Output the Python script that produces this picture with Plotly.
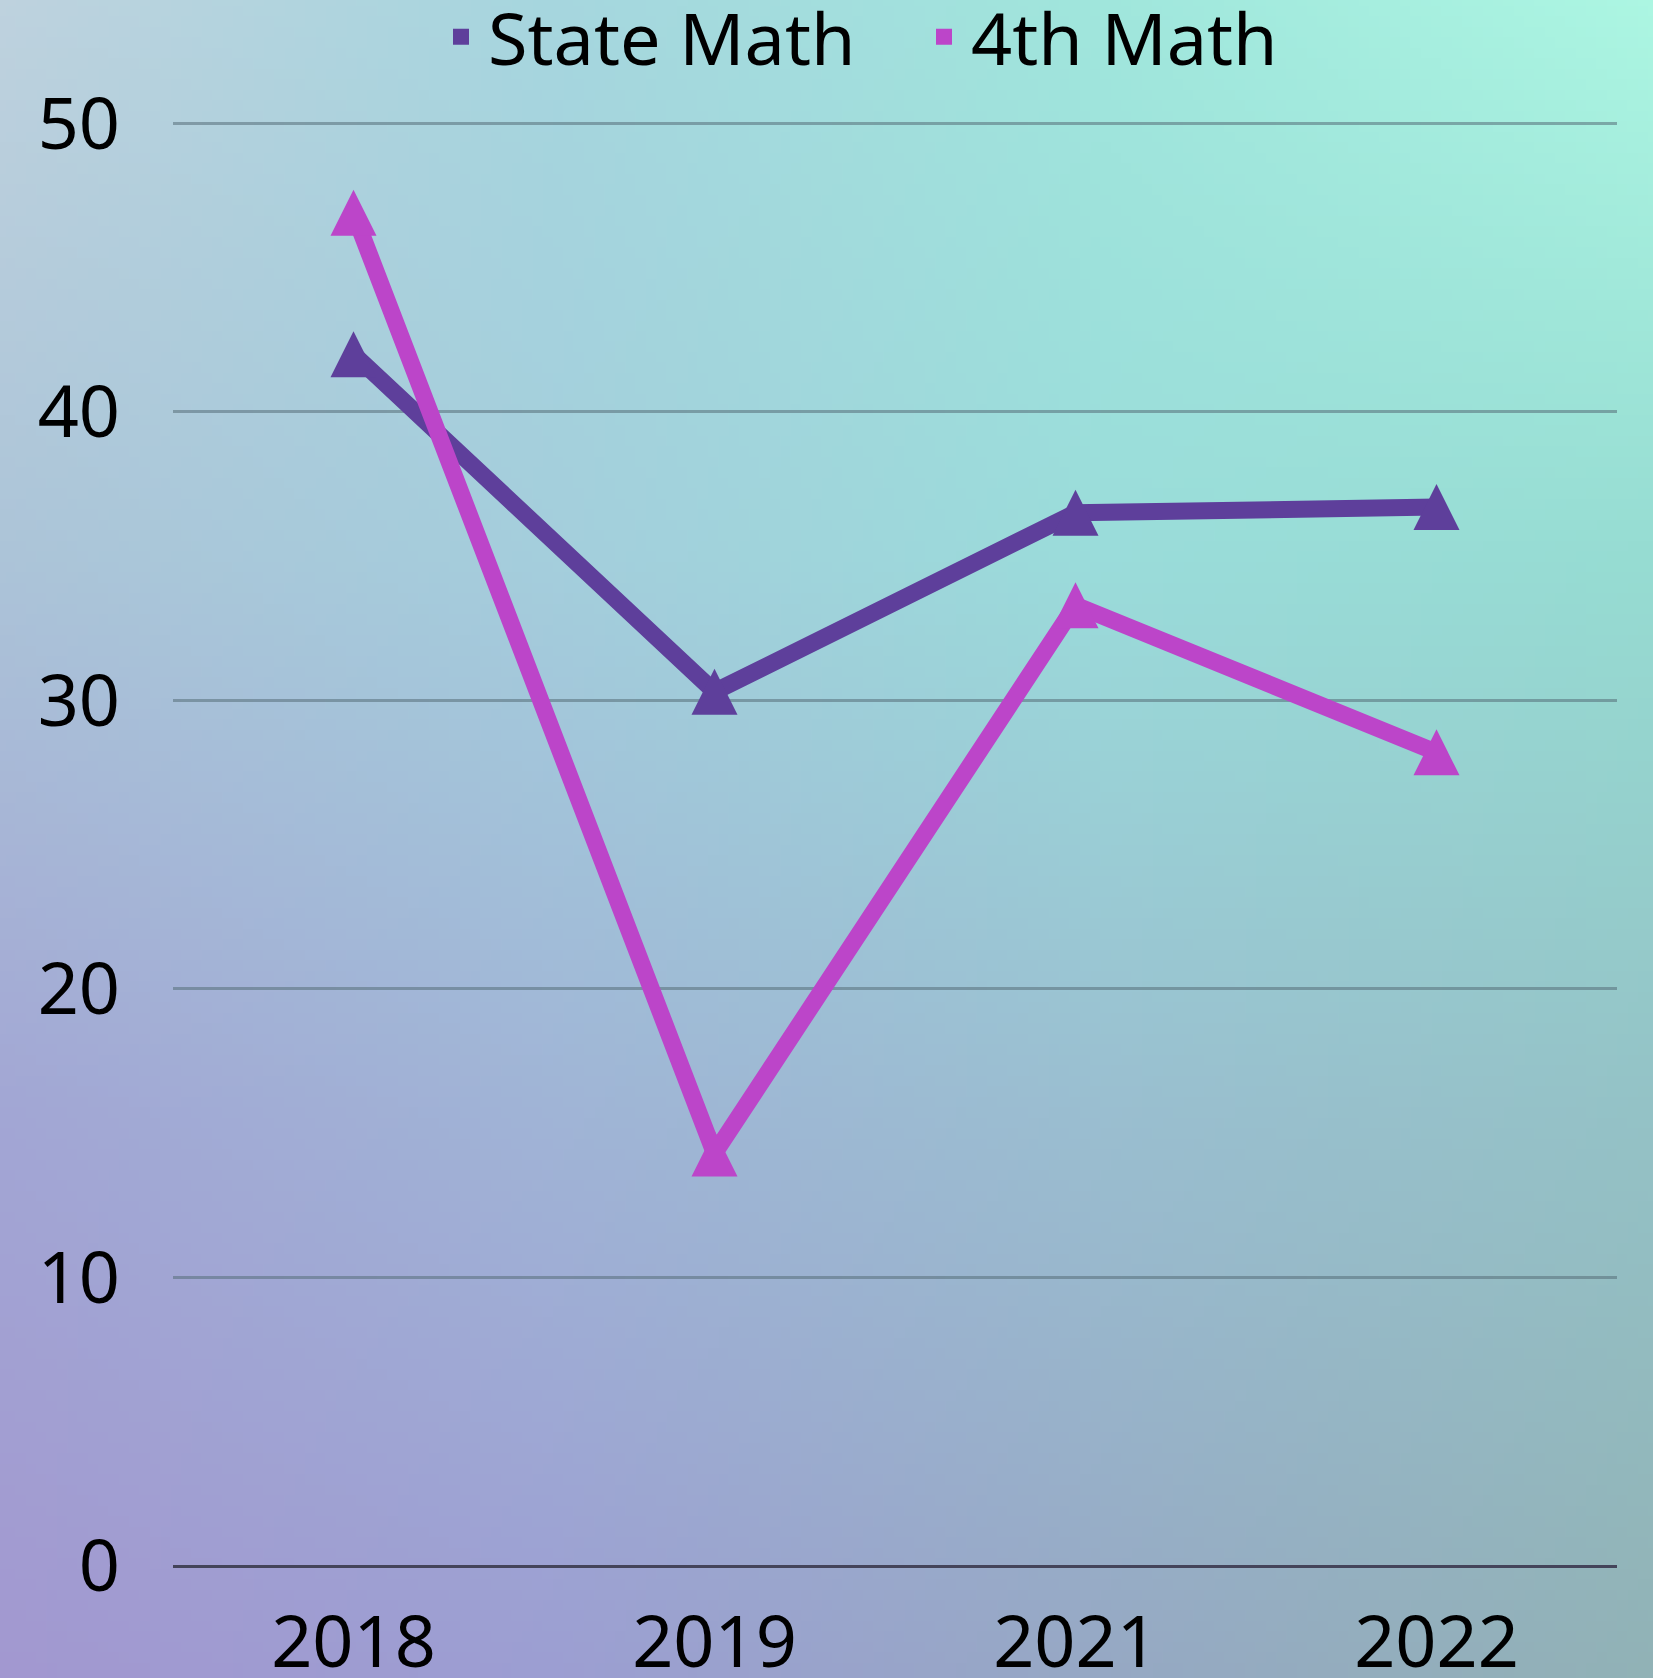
import base64, struct, zlib
import plotly.graph_objects as go

# ---- data ----
years = ["2018", "2019", "2021", "2022"]
state_math = [42.0, 30.3, 36.5, 36.7]
fourth_math = [46.9, 14.3, 33.3, 28.2]
y_ticks = [0, 10, 20, 30, 40, 50]

STATE_COLOR = "#5e3f9b"
FOURTH_COLOR = "#bc45c9"
FONT = "Noto Sans, Lato, sans-serif"

W, H = 1653, 1678
ML, MR, MT, MB = 173, 36, 121, 112
PW, PH = W - ML - MR, H - MT - MB

# ---- soft gradient background (decoration) ----
grid = [
    [(190, 210, 222), (166, 214, 222), (160, 230, 220), (172, 246, 226)],
    [(172, 196, 216), (164, 206, 220), (154, 220, 218), (150, 220, 210)],
    [(162, 166, 212), (160, 180, 214), (154, 190, 208), (148, 194, 198)],
    [(162, 152, 208), (156, 158, 210), (150, 168, 196), (145, 178, 182)],
]


def bg_png(w=160, h=160):
    rows = []
    n = len(grid) - 1
    m = len(grid[0]) - 1
    for j in range(h):
        fy = j / (h - 1) * n
        r0 = min(int(fy), n - 1)
        ty = fy - r0
        row = bytearray()
        for i in range(w):
            fx = i / (w - 1) * m
            c0 = min(int(fx), m - 1)
            tx = fx - c0
            for k in range(3):
                a = grid[r0][c0][k] * (1 - tx) + grid[r0][c0 + 1][k] * tx
                b = grid[r0 + 1][c0][k] * (1 - tx) + grid[r0 + 1][c0 + 1][k] * tx
                row.append(int(round(a * (1 - ty) + b * ty)))
        rows.append(bytes(row))
    raw = b"".join(b"\x00" + r for r in rows)

    def chunk(t, d):
        return struct.pack(">I", len(d)) + t + d + struct.pack(">I", zlib.crc32(t + d) & 0xFFFFFFFF)

    png = (b"\x89PNG\r\n\x1a\n"
           + chunk(b"IHDR", struct.pack(">IIBBBBB", w, h, 8, 2, 0, 0, 0))
           + chunk(b"IDAT", zlib.compress(raw, 9))
           + chunk(b"IEND", b""))
    return "data:image/png;base64," + base64.b64encode(png).decode()


fig = go.Figure()

for name, vals, color in [("State Math", state_math, STATE_COLOR),
                          ("4th Math", fourth_math, FOURTH_COLOR)]:
    fig.add_trace(go.Scatter(
        x=years, y=vals, mode="lines+markers", name=name, showlegend=False,
        line=dict(color=color, width=17),
        marker=dict(symbol="arrow-down", angle=180, standoff=23, size=46,
                    color=color, line=dict(width=0)),
        hoverinfo="x+y+name",
    ))

for name, color in [("State Math", STATE_COLOR), ("4th Math", FOURTH_COLOR)]:
    fig.add_trace(go.Scatter(
        x=[None], y=[None], mode="markers", name=name,
        marker=dict(symbol="square", size=20, color=color),
    ))

fig.update_layout(
    width=W, height=H,
    margin=dict(l=ML, r=MR, t=MT, b=MB, autoexpand=False),
    paper_bgcolor="rgba(0,0,0,0)",
    plot_bgcolor="rgba(0,0,0,0)",
    font=dict(family=FONT, size=72, color="#000000"),
    showlegend=True,
    legend=dict(orientation="h", x=(434 - ML) / PW, xanchor="left",
                y=1 + 84 / PH, yanchor="middle", font=dict(size=72),
                bgcolor="rgba(0,0,0,0)", itemwidth=44,
                entrywidth=424, entrywidthmode="pixels"),
    images=[dict(source=bg_png(), xref="paper", yref="paper",
                 x=-ML / PW, y=1 + MT / PH, sizex=W / PW, sizey=H / PH,
                 xanchor="left", yanchor="top", sizing="stretch", layer="below")],
)

fig.update_xaxes(type="category", range=[-0.5, 3.5], showgrid=False, zeroline=False,
                 showline=False, ticks="", tickfont=dict(size=72),
                 ticklabelstandoff=28, fixedrange=True)
fig.update_yaxes(range=[0, 50.08], tickvals=y_ticks, showgrid=True,
                 gridcolor="rgba(85,110,120,0.55)", gridwidth=3,
                 zeroline=True, zerolinecolor="#44445a", zerolinewidth=3,
                 showline=False, ticks="", tickfont=dict(size=72),
                 ticklabelstandoff=52, fixedrange=True)

fig.write_html("out.html", config={"displayModeBar": False})

# remove default page margins so the figure sits at the window origin
with open("out.html", "r", encoding="utf-8") as f:
    html = f.read()
html = html.replace("<head>", "<head><style>html,body{margin:0;padding:0;}</style>", 1)
with open("out.html", "w", encoding="utf-8") as f:
    f.write(html)
